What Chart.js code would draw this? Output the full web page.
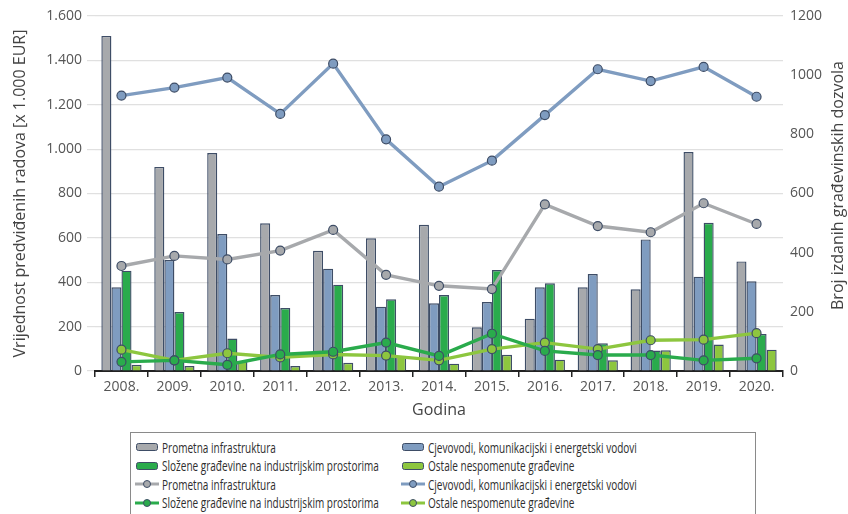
<!DOCTYPE html>
<html>
<head>
<meta charset="utf-8">
<script src="https://cdn.jsdelivr.net/npm/chart.js@4/dist/chart.umd.min.js"></script>
<style>
  html, body { margin: 0; padding: 0; background: #fff; }
  body { width: 848px; height: 514px; position: relative; overflow: hidden; }
  #wrap { position: absolute; left: 0; top: 0; width: 848px; height: 430px; }
  #legend {
    position: absolute; left: 130px; top: 432px; width: 626px; height: 100px;
    border: 1px solid #8a8a8a; box-sizing: border-box; padding-top: 5px;
    font-family: "Open Sans", sans-serif; font-size: 14px; color: #2e2e2e;
  }
  .row { display: flex; height: 18.5px; align-items: center; }
  .item { display: flex; align-items: center; white-space: nowrap; }
  .item.c1 { width: 266px; padding-left: 4px; }
  .item canvas { margin-right: 3px; }
  .item span { display: inline-block; transform-origin: 0 50%; }
</style>
</head>
<body>
<div id="wrap"><canvas id="c"></canvas></div>
<div id="legend"></div>
<script>
const years = ['2008.','2009.','2010.','2011.','2012.','2013.','2014.','2015.','2016.','2017.','2018.','2019.','2020.'];

// Bars: value of planned works [x 1.000 EUR]
const barPrometna  = [1510, 920, 982, 666, 542, 598, 659, 197, 236, 377, 368, 987, 494];
const barCjevovodi = [377, 500, 617, 342, 461, 290, 305, 311, 377, 437, 593, 425, 404];
const barSlozene   = [452, 266, 146, 284, 389, 323, 342, 455, 395, 125, 92, 668, 167];
const barOstale    = [28, 22, 45, 22, 37, 68, 33, 73, 51, 48, 93, 119, 96];

// Lines: number of issued building permits
const linePrometna  = [355, 389, 377, 407, 477, 325, 288, 277, 563, 490, 469, 567, 497];
const lineCjevovodi = [931, 958, 992, 869, 1039, 783, 623, 711, 865, 1020, 980, 1028, 927];
const lineSlozene   = [31, 36, 21, 56, 65, 96, 51, 126, 68, 54, 54, 36, 43];
const lineOstale    = [72, 36, 60, 46, 56, 52, 36, 74, 96, 74, 104, 106, 128];

const leftTicks = [0, 200, 400, 600, 800, 1000, 1200, 1400, 1600];

const names = {
  p: 'Prometna infrastruktura',
  c: 'Cjevovodi, komunikacijski i energetski vodovi',
  s: 'Složene građevine na industrijskim prostorima',
  o: 'Ostale nespomenute građevine'
};
const col = { p: '#a7a9ac', c: '#7f9cc0', s: '#2aab4c', o: '#8dc63f' };
const edge = '#3e4d66';

function bar(label, data, color) {
  return { type: 'bar', label, data, backgroundColor: color, borderColor: edge, borderWidth: 1.4,
           yAxisID: 'y', order: 2, categoryPercentage: 0.76, barPercentage: 1.0 };
}
function line(label, data, color) {
  return { type: 'line', label, data, borderColor: color, backgroundColor: color, borderWidth: 3.4,
           pointRadius: 4.5, pointBackgroundColor: color, pointBorderColor: edge, pointBorderWidth: 1.2,
           yAxisID: 'y1', order: 1, tension: 0 };
}

const fmt = v => String(v).replace(/\B(?=(\d{3})+(?!\d))/g, '.');
const tickFont = { family: '"Open Sans", sans-serif', size: 14 };

const rightTitle = {
  id: 'rightTitle',
  afterDraw(chart) {
    const ctx = chart.ctx;
    const ca = chart.chartArea;
    ctx.save();
    ctx.translate(838, (ca.top + ca.bottom) / 2 - 8);
    ctx.rotate(-Math.PI / 2);
    ctx.font = '16px "Open Sans", sans-serif';
    ctx.fillStyle = '#444';
    ctx.textAlign = 'center';
    ctx.textBaseline = 'middle';
    ctx.fillText('Broj izdanih građevinskih dozvola', 0, 0);
    ctx.restore();
  }
};

const chart = new Chart(document.getElementById('c'), {
  data: {
    labels: years,
    datasets: [
      bar(names.p, barPrometna, col.p),
      bar(names.c, barCjevovodi, col.c),
      bar(names.s, barSlozene, col.s),
      bar(names.o, barOstale, col.o),
      line(names.p, linePrometna, col.p),
      line(names.c, lineCjevovodi, col.c),
      line(names.s, lineSlozene, col.s),
      line(names.o, lineOstale, col.o)
    ]
  },
  options: {
    responsive: true, maintainAspectRatio: false, animation: false,
    layout: { padding: { top: 16, left: 0, right: 0, bottom: 0 } },
    plugins: { legend: { display: false }, tooltip: { enabled: false } },
    scales: {
      x: {
        offset: true,
        grid: { offset: true, drawOnChartArea: false, drawTicks: true, tickLength: 6, color: '#222', lineWidth: 1.5 },
        border: { display: true, color: '#222', width: 2 },
        ticks: { font: tickFont, color: '#555', padding: 2 },
        title: { display: true, text: 'Godina', font: { family: '"Open Sans", sans-serif', size: 16 }, color: '#444', padding: { top: 0, bottom: 10 } },
        afterFit(s) { s.height = 59; }
      },
      y: {
        position: 'left', min: 0, max: 1600,
        afterBuildTicks(s) { s.ticks = leftTicks.map(v => ({ value: v })); },
        grid: { color: '#e0e0e0', lineWidth: 1.2, tickLength: 8, drawTicks: true },
        border: { display: false },
        ticks: { font: tickFont, color: '#555', padding: 5, callback: v => fmt(v) },
        title: { display: true, text: 'Vrijednost predviđenih radova [x 1.000 EUR]', font: { family: '"Open Sans", sans-serif', size: 16 }, color: '#444', padding: { top: 11, bottom: 0 } },
        afterFit(s) { s.width = 95; }
      },
      y1: {
        position: 'right', min: 0, max: 1200,
        grid: { drawOnChartArea: false, drawTicks: false },
        border: { display: false },
        ticks: { font: tickFont, color: '#555', padding: 7, stepSize: 200, callback: v => String(v) },
        title: { display: false },
        afterFit(s) { s.width = 65; }
      }
    }
  },
  plugins: [rightTitle]
});

// HTML legend built from the chart datasets
function icon(ds) {
  const c = document.createElement('canvas');
  c.width = 24; c.height = 12;
  const g = c.getContext('2d');
  if (ds.type === 'bar') {
    g.fillStyle = ds.backgroundColor; g.strokeStyle = edge; g.lineWidth = 1;
    g.beginPath();
    if (g.roundRect) g.roundRect(1.5, 2.5, 21, 7, 2); else g.rect(1.5, 2.5, 21, 7);
    g.fill(); g.stroke();
  } else {
    g.strokeStyle = ds.borderColor; g.lineWidth = 3;
    g.beginPath(); g.moveTo(0, 6); g.lineTo(24, 6); g.stroke();
    g.fillStyle = ds.borderColor; g.strokeStyle = edge; g.lineWidth = 1;
    g.beginPath(); g.arc(12, 6, 3.5, 0, Math.PI * 2); g.fill(); g.stroke();
  }
  return c;
}
const legend = document.getElementById('legend');
const ds = chart.data.datasets;
const spans = [];
for (let r = 0; r < 4; r++) {
  const row = document.createElement('div'); row.className = 'row';
  [ds[r * 2], ds[r * 2 + 1]].forEach((d, i) => {
    const it = document.createElement('div'); it.className = 'item' + (i === 0 ? ' c1' : '');
    it.appendChild(icon(d));
    const sp = document.createElement('span'); sp.textContent = d.label;
    it.appendChild(sp);
    spans.push(sp);
    row.appendChild(it);
  });
  legend.appendChild(row);
}
// condense legend text to match the narrow face of the original
const ref = spans[1].getBoundingClientRect().width;
const k = 209 / ref;
spans.forEach(s => { s.style.transform = 'scaleX(' + k.toFixed(3) + ')'; });
</script>
</body>
</html>
